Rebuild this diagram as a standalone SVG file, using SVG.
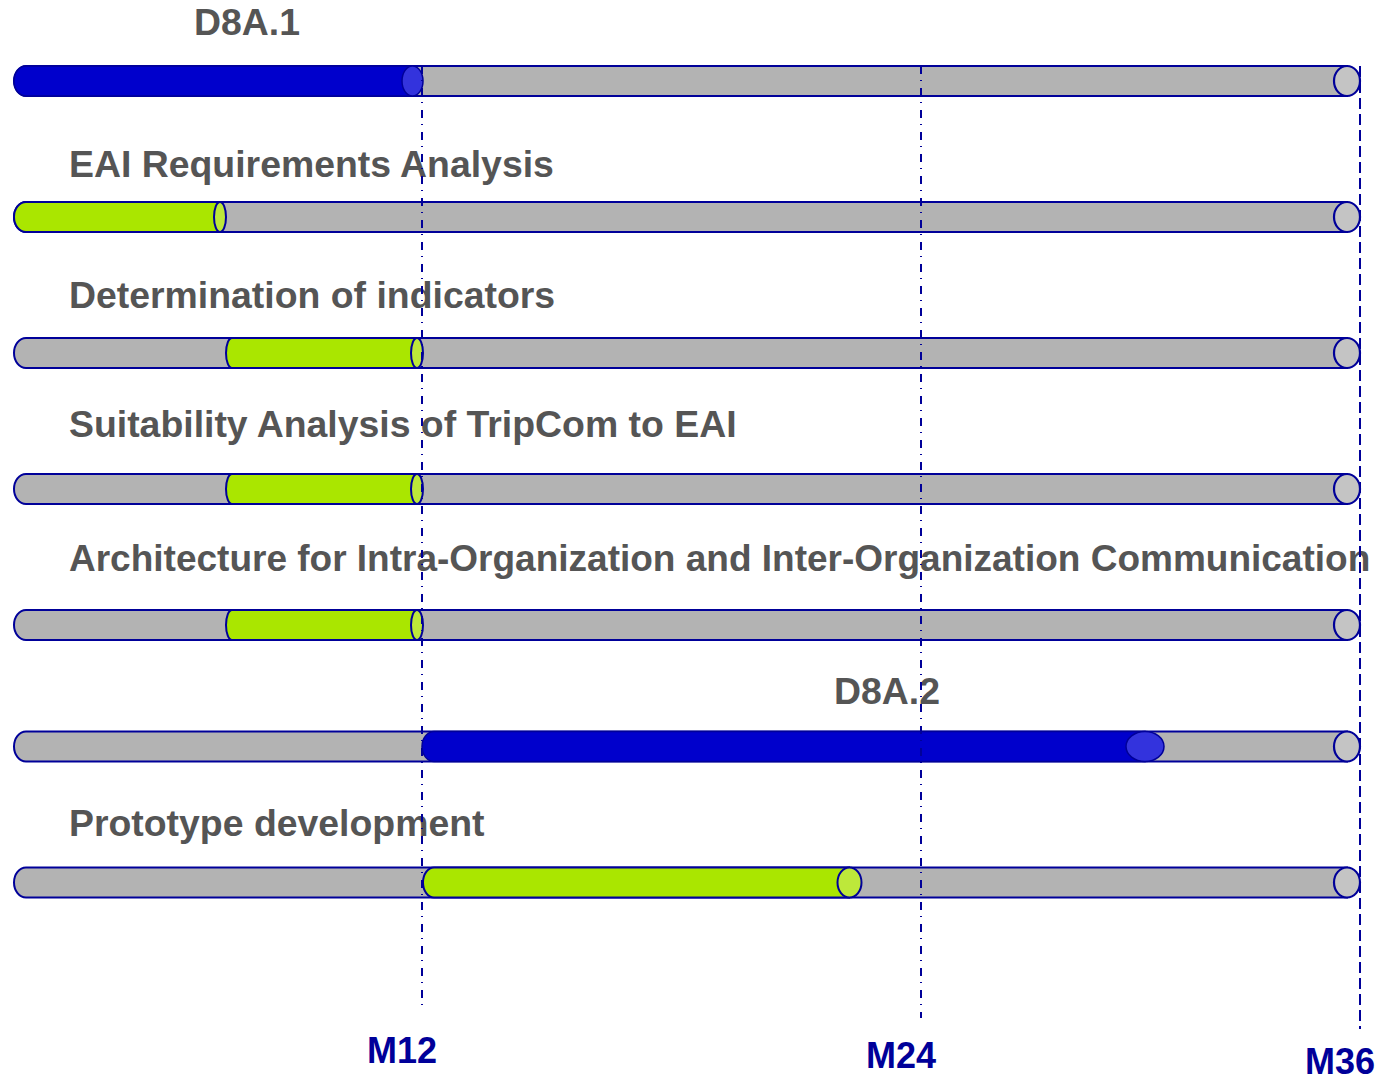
<svg xmlns="http://www.w3.org/2000/svg" width="1384" height="1080" viewBox="0 0 1384 1080">
<style>
.lbl{font-family:"Liberation Sans",Arial,sans-serif;font-weight:bold;font-size:37.4px;fill:#555555}
.lbl2{font-size:37px}
.ms{font-family:"Liberation Sans",Arial,sans-serif;font-weight:bold;font-size:36px;fill:#000099}
.grey{fill:#b3b3b3;stroke:#000099;stroke-width:2}
.greycap{fill:#c4c4c4;stroke:#000099;stroke-width:2.2}
.blue{fill:#0000cc;stroke:#000099;stroke-width:1.5}
.bluecap{fill:#3333dd;stroke:#000099;stroke-width:1.5}
.green{fill:#aae600;stroke:#000099;stroke-width:2}
.greencap{fill:#bde83a;stroke:#000099;stroke-width:2}
.dd{stroke:#000099;stroke-width:2;fill:none;stroke-dasharray:8 6 1 7}
.ld{stroke:#000099;stroke-width:2;fill:none;stroke-dasharray:11 5}
</style>
<g id="row-d8a1">
<path class="grey" d="M26 66 H1347 V96 H26 A12 15 0 0 1 26 66 Z"/>
<ellipse class="greycap" cx="1347" cy="81" rx="13" ry="15"/>
<path class="blue" d="M26 66 H412 V96 H26 A12 15 0 0 1 26 66 Z"/>
<ellipse class="bluecap" cx="412.5" cy="81" rx="10.5" ry="15"/>
<text class="lbl" x="194" y="35">D8A.1</text>
</g>
<g id="row-eai">
<text class="lbl" x="69" y="177">EAI Requirements Analysis</text>
<path class="grey" d="M26 202 H1347 V232 H26 A12 15 0 0 1 26 202 Z"/>
<ellipse class="greycap" cx="1347" cy="217" rx="13" ry="15"/>
<path class="green" d="M26 202 H220 V232 H26 A12 15 0 0 1 26 202 Z"/>
<ellipse class="greencap" cx="220" cy="217" rx="6" ry="15"/>
</g>
<g id="row-determination">
<text class="lbl" x="69" y="308">Determination of indicators</text>
<path class="grey" d="M26 338 H1347 V368 H26 A12 15 0 0 1 26 338 Z"/>
<ellipse class="greycap" cx="1347" cy="353" rx="13" ry="15"/>
<path class="green" d="M232 338 H417 V368 H232 A6 15 0 0 1 232 338 Z"/>
<ellipse class="greencap" cx="417" cy="353" rx="6" ry="15"/>
</g>
<g id="row-suitability">
<text class="lbl" x="69" y="437">Suitability Analysis of TripCom to EAI</text>
<path class="grey" d="M26 474 H1347 V504 H26 A12 15 0 0 1 26 474 Z"/>
<ellipse class="greycap" cx="1347" cy="489" rx="13" ry="15"/>
<path class="green" d="M232 474 H417 V504 H232 A6 15 0 0 1 232 474 Z"/>
<ellipse class="greencap" cx="417" cy="489" rx="6" ry="15"/>
</g>
<g id="row-architecture">
<text class="lbl lbl2" x="69" y="571">Architecture for Intra-Organization and Inter-Organization Communication</text>
<path class="grey" d="M26 610 H1347 V640 H26 A12 15 0 0 1 26 610 Z"/>
<ellipse class="greycap" cx="1347" cy="625" rx="13" ry="15"/>
<path class="green" d="M232 610 H417 V640 H232 A6 15 0 0 1 232 610 Z"/>
<ellipse class="greencap" cx="417" cy="625" rx="6" ry="15"/>
</g>
<g id="row-d8a2">
<text class="lbl" x="834" y="704">D8A.2</text>
<path class="grey" d="M26 731.5 H1347 V761.5 H26 A12 15 0 0 1 26 731.5 Z"/>
<ellipse class="greycap" cx="1347" cy="746.5" rx="13" ry="15"/>
<path class="blue" d="M434 731.5 H1145 V761.5 H434 A12 15 0 0 1 434 731.5 Z"/>
<ellipse class="bluecap" cx="1145" cy="746.5" rx="19" ry="15"/>
</g>
<g id="row-prototype">
<text class="lbl" x="69" y="836">Prototype development</text>
<path class="grey" d="M26 867.5 H1347 V897.5 H26 A12 15 0 0 1 26 867.5 Z"/>
<ellipse class="greycap" cx="1347" cy="882.5" rx="13" ry="15"/>
<path class="green" d="M434 867.5 H849 V897.5 H434 A11 15 0 0 1 434 867.5 Z"/>
<ellipse class="greencap" cx="849.5" cy="882.5" rx="12" ry="15"/>
</g>
<g id="connectors">
<line class="dd" x1="422" y1="66" x2="422" y2="1012"/>
<line class="dd" x1="921" y1="66" x2="921" y2="1018"/>
<line class="ld" x1="1360" y1="66" x2="1360" y2="1029"/>
</g>
<g id="milestones">
<text class="ms" x="367" y="1063">M12</text>
<text class="ms" x="866" y="1068">M24</text>
<text class="ms" x="1305" y="1074">M36</text>
</g>
</svg>
